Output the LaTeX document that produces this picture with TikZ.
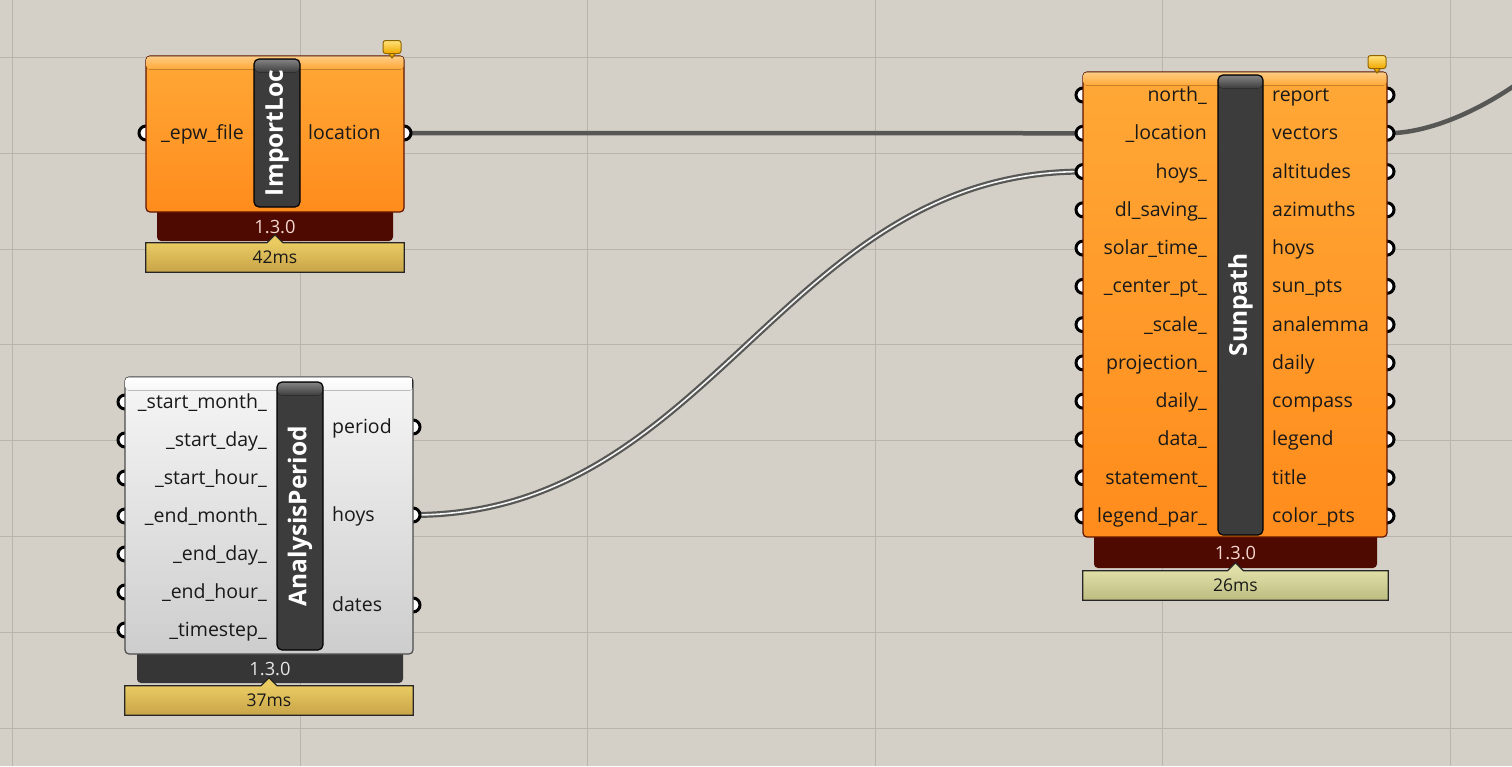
\documentclass[tikz,border=0pt]{standalone}
\usepackage{fontspec}
\setmainfont{Open Sans}
\usetikzlibrary{calc}

\definecolor{canvas}{HTML}{D4D0C8}
\definecolor{gridc}{HTML}{B9B5AD}
\definecolor{wirec}{HTML}{575755}
\definecolor{orTop}{HTML}{FFA837}
\definecolor{orBot}{HTML}{FF8C1C}
\definecolor{orHi}{HTML}{FFCB82}
\definecolor{orEdge}{HTML}{5E1200}
\definecolor{redband}{HTML}{4E0900}
\definecolor{grayband}{HTML}{363636}
\definecolor{barc}{HTML}{3C3C3C}
\definecolor{barHi}{HTML}{808080}
\definecolor{goldTop}{HTML}{E9CB62}
\definecolor{goldBot}{HTML}{C8A448}
\definecolor{oliveTop}{HTML}{DEDEA6}
\definecolor{oliveBot}{HTML}{BDBD82}
\definecolor{whTop}{HTML}{F6F6F6}
\definecolor{whBot}{HTML}{CDCDCD}
\definecolor{verRed}{HTML}{F3D6CF}
\definecolor{verGray}{HTML}{E6E6E6}
\definecolor{balTop}{HTML}{FFE27A}
\definecolor{balBot}{HTML}{F0A800}

\pgfdeclarelayer{back}
\pgfdeclarelayer{wires}
\pgfdeclarelayer{ports}
\pgfsetlayers{back,wires,ports,main}

\tikzset{
  gridline/.style={draw=gridc, line width=1pt},
  wire/.style={draw=wirec, line width=4.5pt},
  wirelist/.style={draw=wirec, line width=2.2pt, double=white!92!gray, double distance=1.6pt},
  port/.style={circle, draw=black, fill=white, line width=3pt, inner sep=0pt, minimum size=14pt},
  orbody/.style={draw=orEdge, line width=1.2pt, rounded corners=4pt, top color=orTop, bottom color=orBot, inner sep=0pt},
  whbody/.style={draw=black!70, line width=1.2pt, rounded corners=4pt, top color=whTop, bottom color=whBot, inner sep=0pt},
  ortop/.style={top color=orHi, bottom color=orTop, rounded corners=3pt},
  whtop/.style={top color=white, bottom color=whTop, rounded corners=3pt},
  namebar/.style={draw=black, line width=1.2pt, fill=barc, rounded corners=5pt, inner sep=0pt},
  bartop/.style={top color=barHi, bottom color=barc, rounded corners=4pt},
  nametext/.style={rotate=90, text=white, inner sep=0pt, font=\fontsize{24.5}{24.5}\selectfont\bfseries},
  inlabel/.style={anchor=base east, yshift=-6.5pt, inner sep=0pt, text=black!90, font=\fontsize{19.5}{19.5}\selectfont},
  outlabel/.style={anchor=base west, yshift=-6.5pt, inner sep=0pt, text=black!90, font=\fontsize{19.5}{19.5}\selectfont},
  verband/.style={rounded corners=4pt, fill=redband, text=verRed, text height=19pt, text depth=0pt, inner sep=0pt, font=\fontsize{18.3}{18.3}\selectfont},
  grayverband/.style={verband, fill=grayband, text=verGray},
  timebox/.style={top color=goldTop, bottom color=goldBot, inner sep=0pt, text=black!90, font=\fontsize{17.5}{17.5}\selectfont},
  olivebox/.style={timebox, top color=oliveTop, bottom color=oliveBot},
  timeedge/.style={draw=black!85, line width=1.2pt},
  balloon/.style={draw=balBot!60!black, line width=1pt, rounded corners=2.5pt, top color=balTop, bottom color=balBot, minimum width=18pt, minimum height=13pt, inner sep=0pt}
}

\newcommand{\notchbox}[2]{%
  \fill[#2] ($(#1.north)+(-8,0.6)$) -- ++(8,-8.6) -- ++(8,8.6) -- cycle;
  \draw[timeedge] (#1.north west) -- ($(#1.north)+(-8,0)$) -- ++(8,-8) -- ++(8,8) -- (#1.north east) -- (#1.south east) -- (#1.south west) -- cycle;}
\newcommand{\msgtail}[1]{%
  \filldraw[draw=balBot!60!black, line width=1pt, fill=balBot] ($(#1.south)+(-3,0)$) -- ++(3,4) -- ++(3,-4);}

\begin{document}
\begin{tikzpicture}[x=1pt,y=-1pt]
\useasboundingbox (0,0) rectangle (1512,766);
\begin{pgfonlayer}{back}
\fill[canvas] (0,0) rectangle (1512,766);
\foreach \gx in {0,...,5} \draw[gridline] (12.5+287.5*\gx,0) -- (12.5+287.5*\gx,766);
\foreach \gy in {0,...,7} \draw[gridline] (0,57.5+95.83*\gy) -- (1512,57.5+95.83*\gy);
\end{pgfonlayer}

% ImportLoc
\node[verband, minimum width=236pt, minimum height=35pt] (il-ver) at (275,223.5) {1.3.0};
\node[orbody, minimum width=258pt, minimum height=156pt] (il-body) at (275,134) {};
\fill[ortop] ($(il-body.north west)+(1,1)$) rectangle ($(il-body.north east)+(-1,14)$);
\node[namebar, minimum width=46pt, minimum height=148pt] (il-bar) at (277,133) {};
\fill[bartop] ($(il-bar.north west)+(1.5,1.5)$) rectangle ($(il-bar.north east)+(-1.5,14)$);
\node[nametext] (il-name) at (il-bar) {ImportLoc};
\begin{pgfonlayer}{ports}
\node[port] (il-in1) at (146,133) {};
\node[port] (il-out1) at (404,133) {};
\end{pgfonlayer}
\node[inlabel] (il-inlab1) at (244,133) {\_epw\_file};
\node[outlabel] (il-outlab1) at (308,133) {location};
\node[timebox, minimum width=258pt, minimum height=29pt] (il-time) at (275,257.5) {42ms};
\notchbox{il-time}{goldTop}
\node[balloon] (il-msg) at (392,47) {};
\msgtail{il-msg}

% AnalysisPeriod
\node[grayverband, minimum width=266pt, minimum height=35pt] (ap-ver) at (270,665.5) {1.3.0};
\node[whbody, minimum width=288pt, minimum height=277pt] (ap-body) at (269,515.5) {};
\fill[whtop] ($(ap-body.north west)+(1,1)$) rectangle ($(ap-body.north east)+(-1,14)$);
\node[namebar, minimum width=46pt, minimum height=268pt] (ap-bar) at (300,516) {};
\fill[bartop] ($(ap-bar.north west)+(1.5,1.5)$) rectangle ($(ap-bar.north east)+(-1.5,14)$);
\node[nametext] (ap-name) at (ap-bar) {AnalysisPeriod};
\foreach \lab [count=\n] in {\_start\_month\_, \_start\_day\_, \_start\_hour\_, \_end\_month\_, \_end\_day\_, \_end\_hour\_, \_timestep\_} {
  \begin{pgfonlayer}{ports}\node[port] (ap-in\n) at (125,364+38*\n) {};\end{pgfonlayer}
  \node[inlabel] (ap-inlab\n) at (267,364+38*\n) {\lab};
}
\foreach \lab/\y [count=\n] in {period/427, hoys/515, dates/605} {
  \begin{pgfonlayer}{ports}\node[port] (ap-out\n) at (413,\y) {};\end{pgfonlayer}
  \node[outlabel] (ap-outlab\n) at (332,\y) {\lab};
}
\node[timebox, minimum width=288pt, minimum height=29pt] (ap-time) at (269,700.5) {37ms};
\notchbox{ap-time}{goldTop}

% Sunpath
\node[verband, minimum width=283pt, minimum height=37pt] (sp-ver) at (1235.5,549.5) {1.3.0};
\node[orbody, minimum width=304pt, minimum height=465pt] (sp-body) at (1235,304.5) {};
\fill[ortop] ($(sp-body.north west)+(1,1)$) rectangle ($(sp-body.north east)+(-1,14)$);
\node[namebar, minimum width=45pt, minimum height=460pt] (sp-bar) at (1240.5,305) {};
\fill[bartop] ($(sp-bar.north west)+(1.5,1.5)$) rectangle ($(sp-bar.north east)+(-1.5,14)$);
\node[nametext] (sp-name) at (sp-bar) {Sunpath};
\foreach \lab [count=\n] in {north\_, \_location, hoys\_, dl\_saving\_, solar\_time\_, \_center\_pt\_, \_scale\_, projection\_, daily\_, data\_, statement\_, legend\_par\_} {
  \begin{pgfonlayer}{ports}\node[port] (sp-in\n) at (1083,56.73+38.27*\n) {};\end{pgfonlayer}
  \node[inlabel] (sp-inlab\n) at (1207,56.73+38.27*\n) {\lab};
}
\foreach \lab [count=\n] in {report, vectors, altitudes, azimuths, hoys, sun\_pts, analemma, daily, compass, legend, title, color\_pts} {
  \begin{pgfonlayer}{ports}\node[port] (sp-out\n) at (1387,56.73+38.27*\n) {};\end{pgfonlayer}
  \node[outlabel] (sp-outlab\n) at (1272,56.73+38.27*\n) {\lab};
}
\node[olivebox, minimum width=305pt, minimum height=29pt] (sp-time) at (1235.5,585.5) {26ms};
\notchbox{sp-time}{oliveTop}
\node[balloon] (sp-msg) at (1377,62) {};
\msgtail{sp-msg}

% wires
\coordinate (vec-end) at (1620,-20);
\begin{pgfonlayer}{wires}
\draw[wire] (il-out1.center) -- (sp-in2.center);
\draw[wirelist] (ap-out2.center) .. controls +(300,0) and +(-300,0) .. (sp-in3.center);
\draw[wire] (sp-out2.center) .. controls +(70,0) and +(-60,90) .. (vec-end);
\end{pgfonlayer}
\end{tikzpicture}
\end{document}
